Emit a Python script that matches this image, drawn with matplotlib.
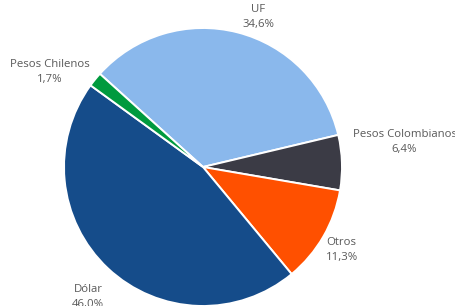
import matplotlib.pyplot as plt

# datos del grafico
categorias = ["UF", "Pesos Colombianos", "Otros", "Dólar", "Pesos Chilenos"]
porcentajes = [34.6, 6.4, 11.3, 46.0, 1.7]
etiquetas = ["34,6%", "6,4%", "11,3%", "46,0%", "1,7%"]
colores = ["#8AB8EC", "#3B3B45", "#FF5000", "#154C8A", "#009A3E"]

# posiciones de las etiquetas (coordenadas del eje, radio = 1)
pos_etiquetas = [(0.396, 1.079), (1.45, 0.18), (0.885, -0.597),
                 (-0.827, -0.935), (-1.10, 0.683)]
alineacion = ["center", "center", "left", "center", "center"]

plt.rcParams["font.family"] = ["Open Sans", "DejaVu Sans"]

fig = plt.figure(figsize=(4.56, 3.06), dpi=100)
ax = fig.add_axes([0, 0, 1, 1])

ax.pie(
    porcentajes,
    colors=colores,
    startangle=137.9,
    counterclock=False,
    radius=1.0,
    wedgeprops={"edgecolor": "white", "linewidth": 1.4},
)

for cat, txt, (x, y), ha in zip(categorias, etiquetas, pos_etiquetas, alineacion):
    ax.text(x, y, f"{cat}\n{txt}", ha=ha, va="center", ma=ha if ha == "left" else "center",
            fontsize=8.2, color="#595959", linespacing=1.4)

r = 139.0
ax.set_xlim(-203 / r, (456 - 203) / r)
ax.set_ylim(-(306 - 167) / r, 167 / r)
ax.set_aspect("equal")
ax.axis("off")

fig.savefig("out.png", dpi=100)
